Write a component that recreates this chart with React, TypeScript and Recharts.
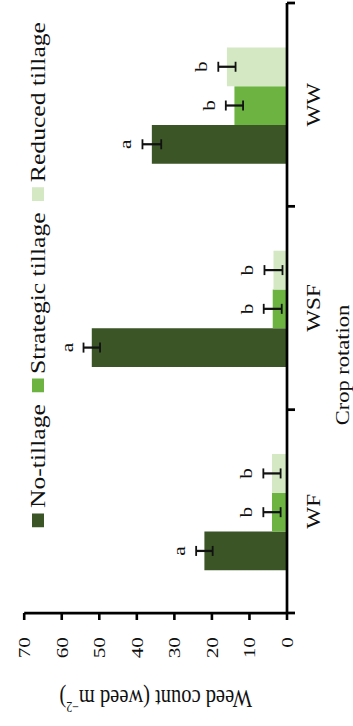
import { Bar, BarChart, ErrorBar, Label, LabelList, Legend, XAxis, YAxis } from "recharts";

// weed counts per crop rotation and tillage system (mean ± SE)
const crops = ["WF", "WSF", "WW"];
const noTillage = [22, 52, 36];
const noTillageSe = [2.2, 2.2, 2.5];
const strategicTillage = [4, 3.8, 14];
const strategicTillageSe = [2.3, 2.4, 2.3];
const reducedTillage = [4, 3.6, 16];
const reducedTillageSe = [2.3, 2.4, 2.3];

// mean separation letters
const noTillageLetters = ["a", "a", "a"];
const strategicLetters = ["b", "b", "b"];
const reducedLetters = ["b", "b", "b"];

const countTicks = [0, 10, 20, 30, 40, 50, 60, 70];

const series = [
  { key: "nt", errKey: "ntSe", name: "No-tillage", color: "#3b5526", values: noTillage, errors: noTillageSe, letters: noTillageLetters },
  { key: "st", errKey: "stSe", name: "Strategic tillage", color: "#6cb342", values: strategicTillage, errors: strategicTillageSe, letters: strategicLetters },
  { key: "rt", errKey: "rtSe", name: "Reduced tillage", color: "#d3e8c3", values: reducedTillage, errors: reducedTillageSe, letters: reducedLetters },
];

const data = crops.map((crop, i) => ({
  crop,
  nt: noTillage[i],
  ntSe: noTillageSe[i],
  st: strategicTillage[i],
  stSe: strategicTillageSe[i],
  rt: reducedTillage[i],
  rtSe: reducedTillageSe[i],
}));

// figure is laid out landscape, stretched a little sideways, then turned on its side
const STRETCH = 1.25;
const FIG_W = 726 / STRETCH;
const FIG_H = 353;
const MARGIN = { top: 24.2, right: 2.4, bottom: 0, left: 0 };
const Y_AXIS_W = 90.4;
const BAND = (FIG_W - MARGIN.left - MARGIN.right - Y_AXIS_W) / crops.length;

// crop name under each group, with tick marks on the group edges
function RotationTick(props: any) {
  const { x, y, payload, index } = props;
  const left = x - BAND / 2;
  const right = x + BAND / 2;
  return (
    <g>
      <line x1={left} x2={left} y1={y} y2={y + 8} stroke="#000" strokeWidth={2.2} />
      {index === crops.length - 1 && <line x1={right} x2={right} y1={y} y2={y + 8} stroke="#000" strokeWidth={2.2} />}
      <text x={x} y={y + 33.5} textAnchor="middle" fontSize={18.5} fill="#111">
        {payload.value}
      </text>
    </g>
  );
}

function letterLabel(values: number[], errors: number[], letters: string[]) {
  return (props: any) => {
    const box = props.viewBox ?? props;
    const value = Number(props.value);
    const i = props.index ?? values.indexOf(value);
    if (!value || !box.height) return null;
    const top = Math.min(box.y, box.y + box.height);
    const errPx = (errors[i] / value) * Math.abs(box.height);
    return (
      <text x={box.x + box.width / 2} y={top - errPx - 11} textAnchor="middle" fontSize={17} fill="#111">
        {letters[i]}
      </text>
    );
  };
}

function LegendRow() {
  return (
    <div style={{ display: "flex", alignItems: "center", fontSize: 20.5, lineHeight: "20px", whiteSpace: "nowrap", color: "#111" }}>
      {series.map((s) => (
        <div key={s.key} style={{ display: "flex", alignItems: "center", marginRight: 9 }}>
          <span style={{ display: "inline-block", width: 11.2, height: 12, background: s.color, marginRight: 4 }} />
          <span>{s.name}</span>
        </div>
      ))}
    </div>
  );
}

export default function App() {
  return (
    <div
      style={{
        position: "absolute",
        left: 0,
        top: 0,
        width: 353,
        height: 726,
        overflow: "hidden",
        background: "#fff",
        fontFamily: "'Liberation Serif', serif",
      }}
    >
      <div
        style={{
          position: "absolute",
          left: 0,
          top: 0,
          width: FIG_W,
          height: FIG_H,
          transformOrigin: "0 0",
          transform: `translateY(726px) rotate(-90deg) scaleX(${STRETCH})`,
        }}
      >
        <BarChart width={FIG_W} height={FIG_H} data={data} margin={MARGIN} barCategoryGap="21%" barGap={0}>
          <XAxis
            dataKey="crop"
            interval={0}
            height={66}
            axisLine={{ stroke: "#000", strokeWidth: 2.7 }}
            tickLine={false}
            tickSize={0}
            tickMargin={0}
            tick={<RotationTick />}
          >
            <Label
              content={(p: any) => {
                const vb = p.viewBox;
                return (
                  <text x={vb.x + vb.width / 2 - 45.6} y={vb.y + 62} textAnchor="middle" fontSize={18} fill="#111">
                    Crop rotation
                  </text>
                );
              }}
            />
          </XAxis>
          <YAxis
            domain={[0, 70]}
            ticks={countTicks}
            interval={0}
            allowDataOverflow
            width={Y_AXIS_W}
            tickSize={5.6}
            tickMargin={13.6}
            axisLine={{ stroke: "#000", strokeWidth: 2.2 }}
            tickLine={{ stroke: "#000", strokeWidth: 2.6 }}
            tick={{ fill: "#111", fontSize: 17 }}
          >
            <Label
              content={(p: any) => {
                const vb = p.viewBox;
                const cx = vb.x + 21.6;
                const cy = vb.y + vb.height / 2;
                return (
                  <text
                    x={cx}
                    y={cy}
                    transform={`rotate(-90, ${cx}, ${cy})`}
                    textAnchor="middle"
                    dominantBaseline="central"
                    fontSize={20.5}
                    fill="#111"
                  >
                    Weed count (weed m
                    <tspan dy={-7} fontSize={12}>
                      −2
                    </tspan>
                    <tspan dy={7}>)</tspan>
                  </text>
                );
              }}
            />
          </YAxis>
          <Legend
            layout="horizontal"
            verticalAlign="middle"
            align="center"
            wrapperStyle={{ top: 28, left: 159.2, width: "auto", height: "auto" }}
            content={() => <LegendRow />}
          />
          {series.map((s) => (
            <Bar key={s.key} dataKey={s.key} name={s.name} fill={s.color} isAnimationActive={false}>
              <ErrorBar dataKey={s.errKey} direction="y" width={4} strokeWidth={1.8} stroke="#111" />
              <LabelList dataKey={s.key} content={letterLabel(s.values, s.errors, s.letters)} />
            </Bar>
          ))}
        </BarChart>
      </div>
    </div>
  );
}
